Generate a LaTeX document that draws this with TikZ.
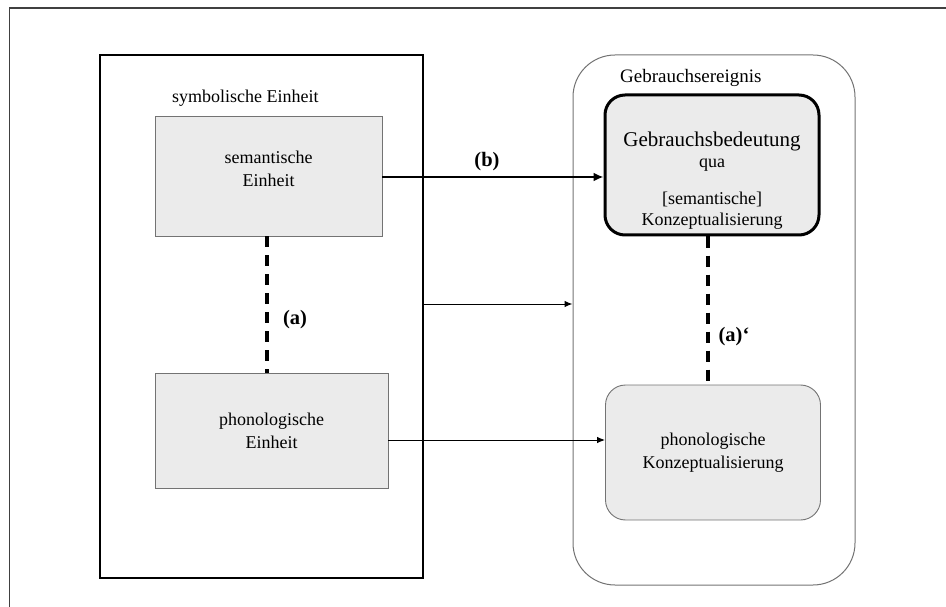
\documentclass[tikz,border=0pt]{standalone}
\usepackage{fontspec}
\setmainfont{Liberation Serif}
\usetikzlibrary{arrows.meta,calc}

\definecolor{boxfill}{gray}{0.92}
\definecolor{softline}{gray}{0.45}
\definecolor{frameline}{gray}{0.25}

\tikzset{
  lbl/.style={font=\fontsize{18}{23}\selectfont, align=center, inner sep=0pt},
  unitbox/.style={draw=softline, line width=0.9pt, fill=boxfill,
    font=\fontsize{18}{23}\selectfont, align=center, inner sep=0pt},
  roundbox/.style={unitbox, rounded corners=20pt},
  usagebox/.style={roundbox, draw=black, line width=3pt},
  groupbox/.style={draw=black, line width=1.6pt, inner sep=0pt},
  eventbox/.style={draw=softline, line width=1pt, rounded corners=42pt, inner sep=0pt},
  flow/.style={line width=1pt, -{Latex[length=8pt,width=6.5pt]}},
  strongflow/.style={line width=2.8pt, -{Latex[length=10pt,width=9pt]}},
  link/.style={line width=3.4pt, dash pattern=on 11pt off 8pt},
  tag/.style={font=\fontsize{20.5}{24}\selectfont\bfseries, inner sep=0pt}
}

\begin{document}
\begin{tikzpicture}[x=1pt, y=-1pt]
  \useasboundingbox (0,0) rectangle (946,607);

  % page frame (only its top and left edges fall inside the picture)
  \coordinate (frameTL) at (9.5,8);
  \coordinate (frameTR) at (946,8);
  \coordinate (frameBL) at (9.5,607);
  \draw[frameline, line width=1.4pt] (frameBL) -- (frameTL) -- (frameTR);

  % symbolic unit with its two poles
  \node[groupbox, minimum width=323pt, minimum height=523pt] (symb) at (261.5,316.5) {};
  \node[lbl, anchor=west] (symbtitle) at (172,98) {symbolische Einheit};
  \node[unitbox, minimum width=227pt, minimum height=120pt] (sem) at (268.5,176) {};
  \node[lbl] (semtext) at (268.5,169) {semantische\\Einheit};
  \node[unitbox, minimum width=233pt, minimum height=115pt] (phon) at (271.5,430.5)
    {phonologische\\Einheit};

  % usage event
  \node[eventbox, minimum width=282pt, minimum height=530pt] (event) at (714,320) {};
  \node[usagebox, minimum width=214pt, minimum height=140pt] (geb) at (712,165) {};
  \node[lbl, font=\fontsize{19}{23}\selectfont, anchor=west] (eventtitle) at (620,78) {Gebrauchsereignis};
  \node[lbl, font=\fontsize{18}{21}\selectfont] (gebtext) at (712,181)
    {{\fontsize{21}{21}\selectfont Gebrauchsbedeutung}\\qua\\[16pt][semantische]\\Konzeptualisierung};
  \node[roundbox, minimum width=215pt, minimum height=135pt] (konz) at (713,452.5)
    {phonologische\\Konzeptualisierung};

  % connections
  \draw[link] (sem.south -| 267,0) coordinate (semfoot) -- (semfoot |- phon.north);
  \draw[link] (geb.south -| 708,0) coordinate (gebfoot) -- (gebfoot |- konz.north);

  \coordinate (semout) at ($(sem.east)+(0,1)$);
  \draw[strongflow] (semout) -- (semout -| geb.west);

  \coordinate (symbout) at ($(symb.east)+(0,-12.5)$);
  \draw[flow] (symbout) -- (symbout -| event.west);

  \coordinate (phonout) at ($(phon.east)+(0,9.5)$);
  \draw[flow] (phonout) -- (phonout -| konz.west);

  % relation labels
  \node[tag] (tagA) at (295,320) {(a)};
  \node[tag] (tagA2) at (734,337) {(a)‘};
  \node[tag] (tagB) at (487,162) {(b)};
\end{tikzpicture}
\end{document}
